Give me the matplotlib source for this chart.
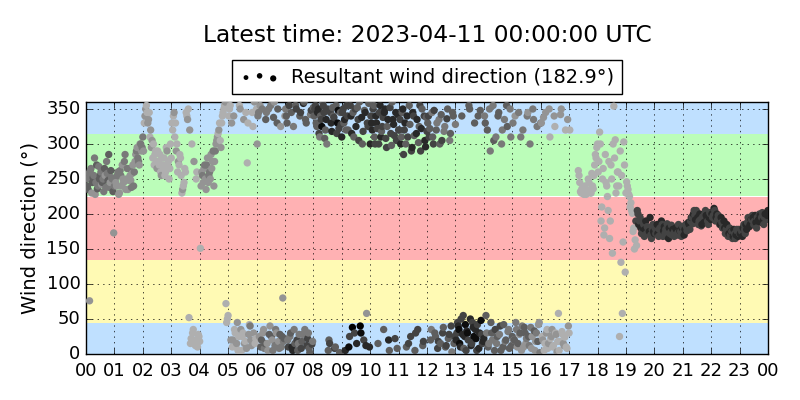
import numpy as np
import matplotlib
matplotlib.use('Agg')
import matplotlib.pyplot as plt

nan = np.nan

# wind direction (deg), 3-minute samples (20 per hour), in 6 hour blocks
wd_00_06 = [250, 235, 76, 265, 245, 255, 228, 270, 240, 250, 260, 245, 232, 255, 275, 248, 238, 262, 250, 173,
            250, 240, 260, 230, 255, 270, 245, 285, 250, 235, 265, 248, 258, 240, 275, 290, 280, 270, 300, 295,
            290, 340, 355, 330, 345, 320, 305, 300, 285, 275, 290, 270, 260, 280, 265, 255, 295, 270, 250, 300,
            330, 340, 310, 290, 260, 270, 280, 230, 240, 265, 345, 335, 52, 15, 300, 35, 20, 250, 10, 25,
            151, 260, 245, 270, 235, 280, 255, 250, 265, 290, 275, 300, 310, 320, 305, 330, 345, 355, 72, 50,
            340, 355, 330, 20, 35, 10, 45, 25, 350, 5, 30, 15, 345, 273, 28, 40, 12, 325, 360, 22]
wd_06_12 = [300, 345, 355, 20, 30, 8, 335, 15, 350, 40, 25, 5, 360, 35, 330, 18, 28, 10, 80, 22,
            350, 330, 10, 25, 345, 5, 35, 355, 20, 15, 340, 8, 28, 360, 335, 12, 30, 2, 348, 18,
            340, 355, 325, 350, 310, 335, 360, 345, 320, 300, 5, 15, 330, 352, 338, 10, 315, 348, 2, 328,
            345, 330, 5, 355, 320, 25, 340, 38, 310, 350, 15, 335, 360, 30, 300, 20, 345, 58, 325, 10,
            340, 320, 355, 300, 330, 15, 345, 310, 325, 35, 350, 295, 335, 5, 315, 360, 328, 22, 305, 342,
            320, 300, 345, 285, 330, 10, 310, 355, 25, 295, 340, 5, 315, 35, 325, 290, 350, 18, 305, 338]
wd_12_18 = [330, 310, 20, 345, 300, 30, 320, 8, 335, 15, 305, 38, 325, 12, 350, 28, 315, 3, 340, 25,
            20, 45, 35, 10, 340, 55, 25, 5, 30, 355, 50, 15, 38, 330, 22, 42, 8, 348, 28, 18,
            340, 55, 320, 15, 290, 30, 355, 5, 310, 25, 345, 40, 300, 10, 335, 20, 325, 35, 350, 12,
            330, 20, 45, 10, 345, 30, 5, 320, 38, 15, 340, 25, 300, 8, 350, 33, 18, 325, 42, 2,
            330, 20, 5, 345, 35, 15, 310, 25, 10, 340, 30, 3, 58, 18, 350, 28, 12, 320, 8, 40,
            320, nan, nan, nan, nan, nan, 262, 245, 230, 232, 228, 230, 235, 250, 232, 230, 240, 255, 285, 295]
wd_18_24 = [260, 317, 190, 250, 170, 285, 240, 205, 165, 270, 144, 354, 306, 240, 260, 25, 131, 58, 303, 117,
            246, 235, 225, 216, 201, 180, 163, 155, 200, 190, 180, 175, 185, 178, 172, 180, 175, 170, 178, 175,
            180, 175, 172, 178, 170, 185, 176, 172, 168, 175, 180, 174, 170, 172, 176, 178, 173, 170, 175, 180,
            175, 178, 182, 180, 185, 190, 195, 200, 198, 205, 195, 190, 192, 185, 195, 200, 198, 190, 195, 200,
            200, 198, 205, 195, 192, 190, 185, 188, 182, 180, 178, 175, 172, 170, 175, 168, 172, 170, 175, 178,
            172, 175, 180, 178, 185, 188, 190, 185, 192, 195, 190, 188, 195, 192, 198, 195, 190, 195, 200, 198]

# samples in between (1.5 min later)
wd2_00_06 = [240, 258, 262, 230, 252, 280, 245, 236, 268, 255, 242, 250, 265, 238, 258, 285, 245, 252, 232, 240,
             245, 255, 228, 262, 240, 250, 275, 235, 265, 248, 255, 238, 270, 260, 285, 295, 275, 300, 290, 310,
             330, 350, 345, 335, 310, 295, 280, 270, 290, 265, 275, 285, 255, 270, 280, 260, 290, 275, 265, 280,
             320, 345, 330, 300, 275, 285, 255, 235, 245, 260, 340, 350, 320, 22, 30, 275, 12, 260, 28, 18,
             240, 255, 265, 250, 270, 245, 260, 285, 275, 240, 290, 305, 315, 330, 295, 340, 350, 360, 45, 55,
             350, 20, 10, 340, 30, 15, 5, 355, 35, 25, 335, 18, 8, 330, 42, 20, 345, 30, 15, 350]
wd2_06_12 = [340, 25, 10, 350, 35, 15, 345, 5, 28, 355, 20, 338, 12, 30, 350, 8, 325, 25, 18, 340,
             340, 20, 355, 30, 10, 325, 15, 350, 5, 28, 345, 18, 358, 35, 330, 22, 8, 342, 14, 352,
             350, 330, 345, 315, 340, 325, 355, 308, 335, 350, 20, 345, 318, 340, 8, 355, 330, 322, 345, 310,
             350, 335, 320, 340, 10, 355, 315, 345, 30, 325, 352, 305, 40, 338, 318, 348, 12, 330, 358, 300,
             330, 350, 310, 340, 322, 300, 355, 318, 338, 345, 308, 325, 20, 352, 298, 335, 312, 345, 8, 320,
             335, 310, 350, 320, 300, 340, 15, 328, 290, 345, 312, 30, 335, 302, 355, 322, 12, 340, 296, 318]
wd2_12_18 = [340, 322, 35, 310, 348, 25, 330, 18, 300, 342, 30, 318, 10, 336, 22, 305, 40, 345, 15, 328,
             30, 40, 15, 50, 28, 8, 42, 33, 20, 350, 12, 45, 25, 35, 5, 340, 30, 48, 15, 22,
             330, 30, 10, 350, 45, 20, 305, 35, 15, 340, 28, 5, 320, 42, 18, 355, 32, 8, 310, 25,
             20, 340, 35, 15, 28, 310, 40, 10, 30, 22, 345, 12, 38, 25, 335, 5, 30, 18, 45, 330,
             25, 338, 15, 30, 8, 350, 22, 35, 12, 325, 28, 18, 5, 342, 32, 15, 24, 10, 335, 30,
             nan, nan, nan, nan, nan, nan, 255, 232, 236, 229, 240, 228, 231, 245, 230, 258, 236, 270, 280, 300]
wd2_18_24 = [275, 300, 210, 265, 180, 245, 225, 275, 190, 250, 300, 280, 230, 260, 240, 290, 255, 160, 270, 230,
             240, 228, 210, 205, 175, 150, 190, 205, 185, 195, 172, 180, 168, 190, 182, 176, 195, 165, 185, 172,
             172, 185, 168, 180, 190, 168, 182, 178, 186, 165, 172, 184, 178, 168, 180, 170, 185, 176, 168, 182,
             170, 185, 176, 188, 178, 195, 186, 205, 192, 198, 185, 200, 183, 196, 188, 205, 192, 185, 202, 192,
             195, 208, 190, 200, 198, 185, 195, 180, 190, 172, 185, 168, 180, 175, 165, 178, 165, 178, 168, 172,
             178, 168, 185, 172, 178, 195, 182, 192, 198, 185, 198, 180, 190, 200, 188, 202, 185, 200, 192, 205]

# wind speed (m/s), sets the grey shade of each dot
ws_00_06 = [5, 6, 4, 5, 6, 5, 4, 6, 5, 6, 5, 6, 5, 4, 5, 6, 5, 6, 5, 4,
            5, 4, 5, 4, 5, 4, 4, 5, 4, 4, 5, 4, 4, 5, 4, 5, 5, 4, 5, 5,
            4, 4, 3, 4, 3, 4, 4, 3, 3, 3, 3, 3, 3, 3, 3, 3, 3, 3, 3, 3,
            3, 3, 3, 4, 3, 3, 3, 3, 3, 3, 3, 4, 3, 3, 3, 3, 3, 3, 3, 3,
            3, 4, 4, 5, 4, 4, 5, 4, 4, 5, 4, 4, 4, 4, 3, 3, 3, 3, 3, 3,
            3, 3, 4, 4, 3, 3, 4, 3, 4, 3, 3, 4, 3, 3, 4, 5, 4, 3, 4, 3]
ws_06_12 = [4, 5, 4, 6, 4, 5, 6, 4, 5, 4, 6, 5, 4, 5, 6, 4, 6, 5, 4, 6,
            5, 6, 7, 5, 6, 8, 5, 6, 7, 5, 6, 7, 5, 6, 6, 7, 5, 6, 7, 5,
            6, 7, 6, 8, 5, 7, 6, 7, 6, 5, 6, 7, 8, 6, 7, 6, 7, 9, 6, 7,
            7, 6, 8, 7, 6, 7, 8, 10, 6, 7, 8, 7, 6, 9, 6, 7, 8, 4, 7, 8,
            7, 8, 6, 7, 8, 6, 7, 8, 7, 6, 8, 7, 8, 6, 7, 6, 8, 7, 7, 8,
            7, 8, 6, 7, 8, 6, 7, 6, 7, 8, 7, 6, 8, 7, 6, 7, 6, 7, 8, 6]
ws_12_18 = [6, 7, 6, 5, 7, 6, 6, 7, 5, 6, 7, 6, 5, 7, 6, 7, 6, 5, 6, 7,
            8, 7, 9, 8, 6, 7, 8, 7, 9, 6, 8, 7, 8, 6, 9, 7, 8, 6, 7, 8,
            5, 6, 6, 5, 5, 6, 5, 6, 5, 6, 6, 7, 5, 6, 5, 6, 6, 5, 5, 6,
            5, 6, 5, 4, 5, 6, 4, 5, 6, 4, 5, 6, 5, 4, 5, 6, 4, 5, 4, 5,
            4, 4, 3, 4, 3, 4, 3, 4, 3, 4, 3, 4, 3, 3, 4, 3, 4, 3, 3, 4,
            3, 3, 3, 3, 3, 3, 3, 3, 3, 3, 3, 3, 3, 3, 3, 3, 3, 3, 3, 3]
ws_18_24 = [3, 3, 3, 3, 3, 3, 3, 3, 3, 3, 3, 3, 3, 3, 3, 3, 3, 3, 3, 3,
            3, 3, 3, 3, 3, 3, 3, 3, 7, 7, 8, 7, 7, 8, 7, 7, 8, 7, 7, 8,
            7, 7, 8, 7, 7, 7, 8, 7, 7, 7, 8, 7, 7, 7, 7, 8, 7, 7, 7, 8,
            7, 8, 7, 7, 8, 7, 7, 8, 7, 7, 8, 7, 7, 8, 7, 7, 8, 7, 8, 7,
            8, 7, 7, 8, 7, 7, 8, 7, 7, 8, 7, 7, 8, 7, 7, 8, 7, 8, 7, 7,
            8, 7, 8, 7, 8, 7, 7, 8, 7, 8, 7, 8, 7, 8, 8, 7, 8, 7, 8, 8]

ws2_00_06 = [6, 5, 5, 4, 6, 5, 5, 6, 5, 6, 4, 5, 6, 5, 5, 6, 4, 5, 6, 5,
             4, 5, 4, 5, 4, 4, 5, 4, 5, 4, 4, 5, 4, 5, 4, 4, 5, 4, 4, 5,
             3, 4, 3, 4, 3, 4, 3, 3, 3, 4, 3, 3, 4, 3, 3, 3, 4, 3, 3, 3,
             3, 4, 3, 3, 4, 3, 3, 4, 3, 3, 3, 3, 4, 3, 3, 4, 3, 3, 3, 3,
             4, 5, 4, 4, 5, 4, 5, 4, 4, 4, 5, 4, 3, 3, 4, 3, 3, 4, 3, 3,
             3, 4, 3, 4, 3, 4, 3, 3, 4, 3, 4, 3, 4, 3, 3, 4, 3, 4, 3, 3]
ws2_06_12 = [5, 4, 6, 5, 4, 6, 5, 4, 6, 5, 4, 6, 5, 4, 6, 5, 4, 6, 5, 4,
             6, 5, 7, 6, 8, 5, 6, 7, 6, 5, 7, 6, 8, 5, 6, 7, 6, 5, 7, 6,
             7, 6, 8, 7, 6, 9, 7, 6, 8, 7, 6, 7, 8, 6, 7, 6, 9, 7, 6, 8,
             7, 8, 6, 7, 9, 7, 8, 6, 7, 8, 6, 7, 10, 8, 7, 6, 8, 7, 6, 8,
             8, 7, 6, 8, 7, 7, 8, 6, 7, 8, 7, 6, 8, 7, 6, 8, 7, 8, 6, 7,
             7, 6, 8, 7, 6, 8, 7, 6, 7, 8, 6, 7, 8, 6, 7, 8, 6, 7, 8, 7]
ws2_12_18 = [7, 6, 5, 6, 7, 6, 5, 7, 6, 6, 7, 5, 6, 7, 6, 5, 7, 6, 6, 5,
             7, 8, 9, 7, 8, 6, 9, 8, 7, 6, 8, 7, 9, 8, 7, 6, 8, 9, 7, 8,
             6, 5, 6, 5, 6, 5, 6, 7, 5, 6, 5, 6, 5, 6, 5, 6, 5, 6, 5, 6,
             5, 4, 5, 6, 4, 5, 5, 4, 6, 5, 4, 5, 5, 4, 5, 4, 5, 6, 4, 5,
             3, 4, 3, 4, 3, 4, 3, 4, 3, 3, 4, 3, 3, 4, 3, 4, 3, 3, 4, 3,
             3, 3, 3, 3, 3, 3, 3, 3, 3, 3, 3, 3, 3, 3, 3, 3, 3, 3, 3, 3]
ws2_18_24 = [3, 3, 3, 3, 3, 3, 3, 3, 3, 3, 3, 3, 3, 3, 3, 3, 3, 3, 3, 3,
             3, 3, 3, 3, 3, 3, 7, 7, 8, 7, 7, 8, 7, 8, 7, 7, 8, 7, 7, 8,
             7, 8, 7, 7, 8, 7, 8, 7, 7, 8, 7, 7, 8, 7, 8, 7, 7, 8, 7, 7,
             8, 7, 7, 8, 7, 8, 7, 7, 8, 7, 7, 8, 7, 7, 8, 7, 8, 7, 7, 8,
             7, 8, 7, 8, 7, 7, 8, 7, 8, 7, 8, 7, 7, 8, 7, 8, 7, 7, 8, 7,
             7, 8, 7, 7, 8, 7, 8, 8, 7, 7, 8, 7, 8, 7, 8, 7, 7, 8, 7, 8]

resultant = 182.9
latest = '2023-04-11 00:00:00 UTC'

bands = [(0, 45, '#bfe0ff'), (45, 135, '#fffab4'), (135, 225, '#ffb1b3'),
         (225, 315, '#bbfdb9'), (315, 360, '#bfe0ff')]

wd1 = np.array(wd_00_06 + wd_06_12 + wd_12_18 + wd_18_24, dtype=float)
wd2 = np.array(wd2_00_06 + wd2_06_12 + wd2_12_18 + wd2_18_24, dtype=float)
ws1 = np.array(ws_00_06 + ws_06_12 + ws_12_18 + ws_18_24, dtype=float)
ws2 = np.array(ws2_00_06 + ws2_06_12 + ws2_12_18 + ws2_18_24, dtype=float)
t1 = (np.arange(len(wd1)) + 0.5) / 20.0
t2 = t1 + 0.025

t = np.concatenate([t1, t2])
wd = np.concatenate([wd1, wd2])
ws = np.concatenate([ws1, ws2])
order = np.argsort(t, kind='stable')

plt.style.use('classic')
fig = plt.figure(figsize=(8, 4), dpi=100)
ax = fig.add_axes([0.1075, 0.115, 0.8525, 0.63])

for lo, hi, c in bands:
    ax.axhspan(lo, hi, color=c, lw=0, zorder=0)

sc = ax.scatter(t[order], wd[order], c=ws[order], cmap='gray_r', vmin=0, vmax=9.5, s=28,
                linewidths=0, zorder=3,
                label='Resultant wind direction ({:.1f}°)'.format(resultant))

ax.set_xlim(0, 24)
ax.set_ylim(0, 360)
ax.set_xticks(range(25))
ax.set_xticklabels(['%02d' % (h % 24) for h in range(25)])
ax.set_yticks(range(0, 351, 50))
ax.grid(True, color='k', linestyle=':', zorder=1)
ax.set_axisbelow(False)
ax.set_ylabel('Wind direction (°)', fontsize=14)
ax.tick_params(labelsize=13)
ax.tick_params(axis='x', pad=6)

leg = ax.legend(loc='lower center', bbox_to_anchor=(0.5, 1.03), scatterpoints=3,
                fontsize=14, borderaxespad=0, handletextpad=0.6)
h = leg.legend_handles[0]
h.set_array(None)
h.set_facecolor('k')
h.set_sizes([12, 16, 20])

fig.text(0.534, 0.912, 'Latest time: ' + latest, ha='center', va='center', fontsize=16.8)

fig.savefig('out.png', dpi=100)
